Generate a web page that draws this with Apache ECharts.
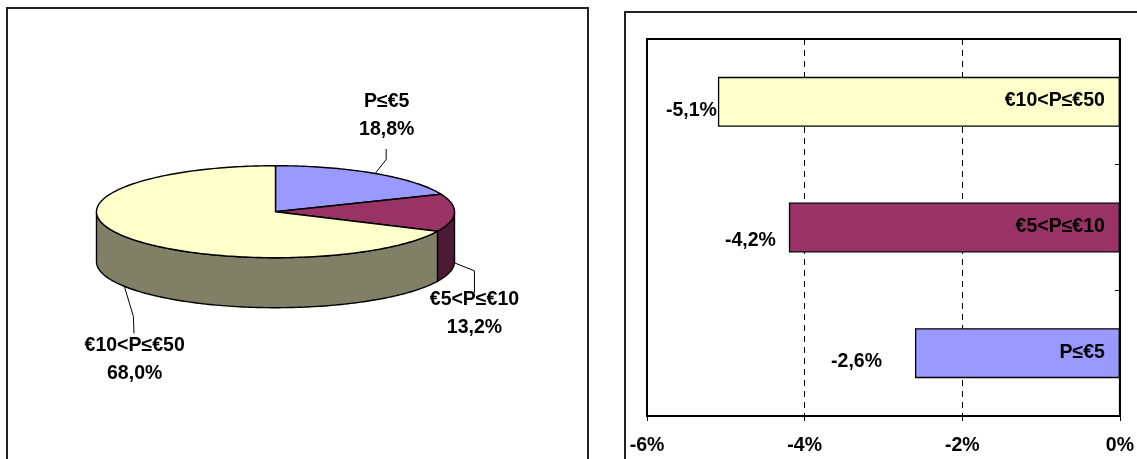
<!DOCTYPE html>
<html>
<head>
<meta charset="utf-8">
<script src="https://cdn.jsdelivr.net/npm/echarts@6/dist/echarts.min.js"></script>
<style>
  html, body { margin: 0; padding: 0; background: #fff; }
  #chart { width: 1137px; height: 459px; }
</style>
</head>
<body>
<div id="chart"></div>
<script>
// price classes, shared by both panels
var classNames = ["P≤€5", "€5<P≤€10", "€10<P≤€50"];
// left panel: share of each class (%)
var pieShares = [18.8, 13.2, 68.0];
// right panel: change per class (%)
var barChanges = [-2.6, -4.2, -5.1];
// x axis of the right panel
var xMin = -6, xMax = 0, xStep = 2;

var topColors = ["#9999FF", "#993366", "#FFFFCC"];
var sideColors = ["#4D4D80", "#4D1A33", "#808066"];
var FAMILY = 'Arial, "Liberation Sans", sans-serif';
var FONT = "bold 19.5px " + FAMILY;

function pct(v) {
  return v.toFixed(1).replace(".", ",") + "%";
}

// 3d-ish pie geometry (left panel)
var pie = { cx: 275.5, cy: 211.7, rx: 179, ry: 46, depth: 50 };
// leader line: [bend, stub end], label centre, all relative to slice anchor
var leaderBend = [[11, -14], [20, 8], [9, 30]];
var leaderEnd = [[11, -24.5], [20, 30], [9.6, 47]];
var labelShift = [[11.5, -58], [20, 50.5], [10.3, 73.4]];

var total = 0, cum = [0];
pieShares.forEach(function (v) { total += v; cum.push(total); });

function renderSlice(params, api) {
  var i = params.dataIndex;
  var a0 = (cum[i] / total) * Math.PI * 2;
  var a1 = (cum[i + 1] / total) * Math.PI * 2;

  function pt(a, dy) {
    return [pie.cx + pie.rx * Math.sin(a), pie.cy - pie.ry * Math.cos(a) + (dy || 0)];
  }
  function arc(s, e, dy) {
    var pts = [];
    var n = Math.max(2, Math.ceil((e - s) / 0.02));
    for (var k = 0; k <= n; k++) pts.push(pt(s + ((e - s) * k) / n, dy));
    return pts;
  }

  var children = [];
  // front wall, only the part facing us
  var s = Math.max(a0, Math.PI / 2), e = Math.min(a1, Math.PI * 1.5);
  if (e > s) {
    children.push({
      type: "polygon",
      shape: { points: arc(s, e, 0).concat(arc(s, e, pie.depth).reverse()) },
      style: { fill: sideColors[i], stroke: "#000", lineWidth: 1.4 }
    });
  }
  children.push({
    type: "polygon",
    shape: { points: [[pie.cx, pie.cy]].concat(arc(a0, a1, 0)) },
    style: { fill: topColors[i], stroke: "#000", lineWidth: 1.4 }
  });

  var m = (a0 + a1) / 2;
  var anchor = pt(m, Math.cos(m) < 0 ? pie.depth : 0);
  children.push({
    type: "polyline",
    shape: {
      points: [
        anchor,
        [anchor[0] + leaderBend[i][0], anchor[1] + leaderBend[i][1]],
        [anchor[0] + leaderEnd[i][0], anchor[1] + leaderEnd[i][1]]
      ]
    },
    style: { stroke: "#000", lineWidth: 1, fill: null }
  });
  children.push({
    type: "text",
    style: {
      text: classNames[i] + "\n" + pct(api.value(0)),
      x: anchor[0] + labelShift[i][0],
      y: anchor[1] + labelShift[i][1],
      align: "center",
      verticalAlign: "middle",
      font: FONT,
      lineHeight: 28,
      fill: "#000"
    }
  });
  return { type: "group", children: children };
}

// value labels sit oddly in the original, so each one gets its own nudge
var valueLabelGap = [33, 13, 1];
var valueLabelDrop = [8, 13.5, 8.5];

var chart = echarts.init(document.getElementById("chart"), null, { renderer: "canvas" });

chart.setOption({
  animation: false,
  backgroundColor: "#fff",
  graphic: [
    { type: "rect", shape: { x: 7, y: 8, width: 581, height: 470 }, style: { fill: null, stroke: "#222", lineWidth: 2 }, z: 0 },
    { type: "rect", shape: { x: 625, y: 12, width: 540, height: 470 }, style: { fill: null, stroke: "#222", lineWidth: 2 }, z: 0 }
  ],
  grid: {
    left: 647, top: 39, width: 473, height: 377,
    show: true, borderColor: "#000", borderWidth: 2, backgroundColor: "transparent"
  },
  xAxis: {
    type: "value", min: xMin, max: xMax, interval: xStep,
    axisLine: { show: true, onZero: false, lineStyle: { color: "#000", width: 2 } },
    axisTick: { show: true, length: 5, lineStyle: { color: "#000" } },
    axisLabel: {
      color: "#000", fontWeight: "bold", fontSize: 19.5, fontFamily: FAMILY,
      margin: 20,
      formatter: function (v) { return v + "%"; }
    },
    splitLine: {
      show: true, showMinLine: false, showMaxLine: false,
      lineStyle: { color: "#000", type: [6, 5], width: 1 }
    }
  },
  yAxis: [
    {
      type: "category", data: classNames, position: "right",
      axisLine: { show: true, onZero: false, lineStyle: { color: "#000", width: 2 } },
      axisTick: { show: true, inside: true, length: 5, lineStyle: { color: "#000" } },
      axisLabel: { show: false },
      splitLine: { show: false }
    },
    {
      // plain frame line on the left edge of the plot
      type: "category", data: classNames, position: "left",
      axisLine: { show: true, onZero: false, lineStyle: { color: "#000", width: 2 } },
      axisTick: { show: false },
      axisLabel: { show: false },
      splitLine: { show: false }
    }
  ],
  series: [
    {
      type: "bar",
      barWidth: 50,
      data: barChanges.map(function (v, i) {
        return { value: v, itemStyle: { color: topColors[i] } };
      }),
      itemStyle: { borderColor: "#000", borderWidth: 1.3 },
      label: {
        show: true, position: "insideRight", distance: 15, offset: [0, -1],
        color: "#000", fontWeight: "bold", fontSize: 19.5, fontFamily: FAMILY,
        formatter: function (p) { return p.name; }
      }
    },
    {
      type: "bar",
      barWidth: 50,
      barGap: "-100%",
      silent: true,
      data: barChanges.map(function (v, i) {
        return {
          value: v,
          label: { distance: valueLabelGap[i], offset: [0, valueLabelDrop[i]] }
        };
      }),
      itemStyle: { color: "transparent" },
      label: {
        show: true, position: "left",
        color: "#000", fontWeight: "bold", fontSize: 19.5, fontFamily: FAMILY,
        formatter: function (p) { return pct(p.value); }
      }
    },
    {
      type: "custom",
      coordinateSystem: "none",
      silent: true,
      data: pieShares,
      renderItem: renderSlice
    }
  ]
});
</script>
</body>
</html>
